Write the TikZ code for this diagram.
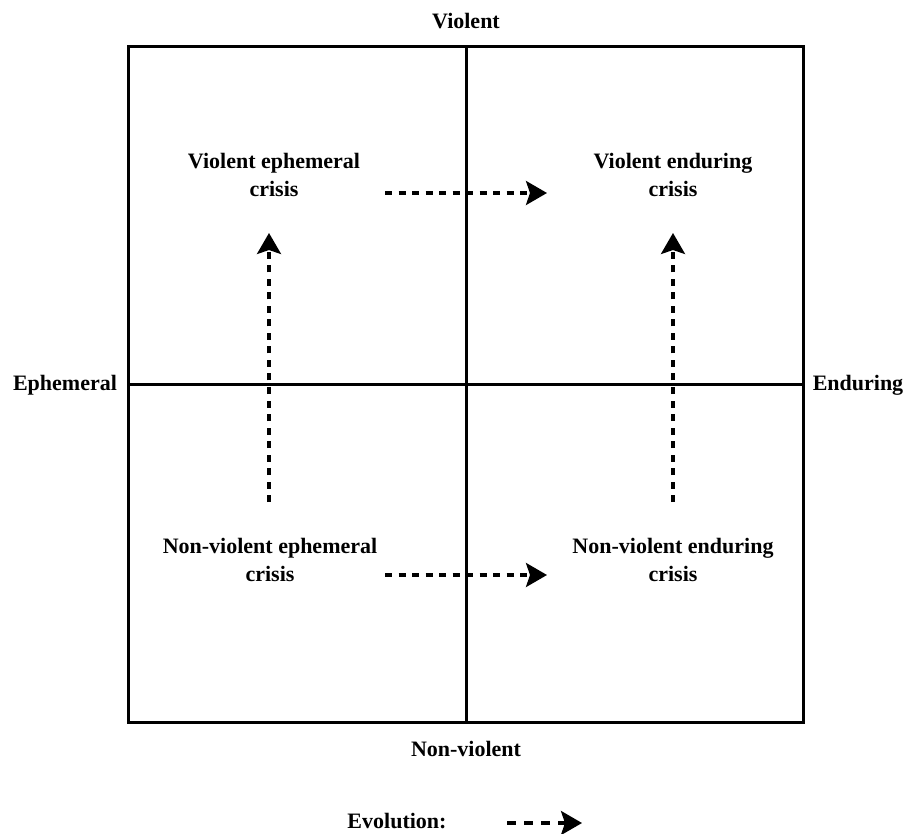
\documentclass[tikz,border=0pt]{standalone}
\usepackage{fontspec}
\setmainfont{Liberation Serif}
\usetikzlibrary{arrows.meta}
\begin{document}
\begin{tikzpicture}[x=1pt,y=-1pt,
  lbl/.style={font=\fontsize{22}{28}\selectfont\bfseries, align=center, inner sep=0pt},
  frame/.style={line width=3pt},
  evo/.style={line width=3.2pt, dash pattern=on 7pt off 6.5pt, -{Stealth[length=21pt,width=24pt,inset=4pt]}}]
  \useasboundingbox (0,0) rectangle (908,834);
  % quadrant frame and axes
  \draw[frame] (128,47) rectangle (803,722);
  \draw[frame] (466,47) -- (466,722);
  \draw[frame] (128,385) -- (803,385);
  % axis labels
  \node[lbl] (top) at (466,21) {Violent};
  \node[lbl] (bottom) at (466,749) {Non-violent};
  \node[lbl] (left) at (65,385) {Ephemeral};
  \node[lbl] (right) at (858,385) {Enduring};
  % crisis types
  \node[lbl] (ve) at (274,175) {Violent ephemeral\\crisis};
  \node[lbl] (ven) at (673,175) {Violent enduring\\crisis};
  \node[lbl] (nve) at (270,560) {Non-violent ephemeral\\crisis};
  \node[lbl] (nven) at (673,560) {Non-violent enduring\\crisis};
  % arrow end points
  \coordinate (a1) at (385,193); \coordinate (b1) at (547,193);
  \coordinate (a2) at (385,575); \coordinate (b2) at (547,575);
  \coordinate (a3) at (269,502); \coordinate (b3) at (269,233);
  \coordinate (a4) at (673,502); \coordinate (b4) at (673,233);
  \draw[evo] (a1) -- (b1);
  \draw[evo] (a2) -- (b2);
  \draw[evo] (a3) -- (b3);
  \draw[evo] (a4) -- (b4);
  % legend
  \node[lbl] (legend) at (397,821) {Evolution:};
  \coordinate (la) at (507,823); \coordinate (lb) at (582,823);
  \draw[evo, dash pattern=on 9pt off 8pt] (la) -- (lb);
\end{tikzpicture}
\end{document}
